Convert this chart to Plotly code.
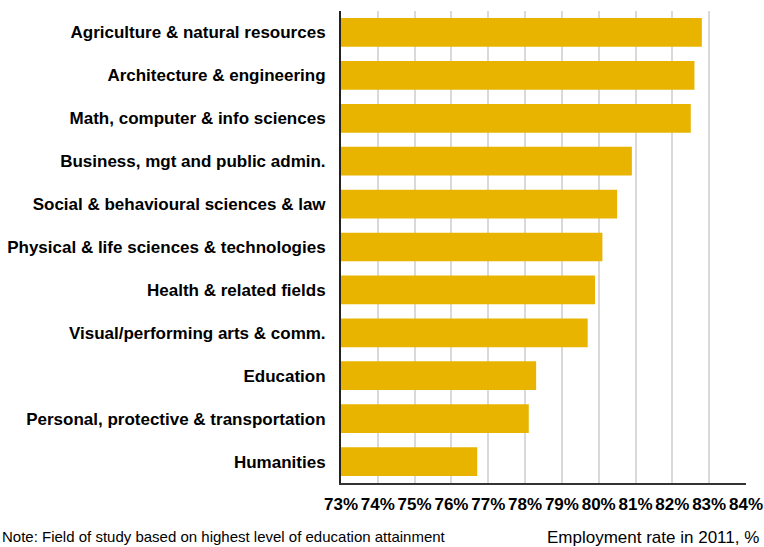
import plotly.graph_objects as go

# Fields of study, top to bottom
fields = [
    "Agriculture & natural resources",
    "Architecture & engineering",
    "Math, computer & info sciences",
    "Business, mgt and public admin.",
    "Social & behavioural sciences & law",
    "Physical & life sciences & technologies",
    "Health & related fields",
    "Visual/performing arts & comm.",
    "Education",
    "Personal, protective & transportation",
    "Humanities",
]
# Employment rate in 2011, %
rates = [82.8, 82.6, 82.5, 80.9, 80.5, 80.1, 79.9, 79.7, 78.3, 78.1, 76.7]

tick_vals = list(range(73, 85))
tick_text = [f"{v}%" for v in tick_vals]

W, H = 764, 547
L, R, T, B = 341, 18, 11, 64
PW, PH = W - L - R, H - T - B

FONT = "Liberation Sans, Arial, sans-serif"

fig = go.Figure(
    go.Bar(
        x=rates,
        y=fields,
        orientation="h",
        marker=dict(color="#E8B400", line=dict(width=0)),
    )
)

fig.update_layout(
    width=W,
    height=H,
    margin=dict(l=L, r=R, t=T, b=B, autoexpand=False),
    paper_bgcolor="white",
    plot_bgcolor="white",
    bargap=0.33,
    showlegend=False,
    font=dict(family=FONT, color="#000"),
    xaxis=dict(
        range=[73, 84],
        tickvals=tick_vals,
        ticktext=tick_text,
        tickangle=0,
        tickfont=dict(size=17, color="#000", family=FONT, weight="bold"),
        showgrid=True,
        gridcolor="#d9d9d9",
        gridwidth=1.5,
        showline=True,
        linecolor="#333",
        linewidth=2,
        ticks="",
        ticklabelstandoff=5,
        zeroline=False,
        automargin=False,
        fixedrange=True,
    ),
    yaxis=dict(
        autorange="reversed",
        tickfont=dict(size=17, color="#000", family=FONT, weight="bold"),
        showline=True,
        linecolor="#222",
        linewidth=2,
        ticks="",
        ticklabelstandoff=10,
        showgrid=False,
        automargin=False,
        fixedrange=True,
    ),
    annotations=[
        dict(
            text="Employment rate in 2011, %",
            xref="paper", yref="paper",
            x=(761 - L) / PW, y=-(537 - (H - B)) / PH,
            xanchor="right", yanchor="middle",
            showarrow=False,
            font=dict(size=17, color="#000", family=FONT),
        ),
        dict(
            text="Note: Field of study based on highest level of education attainment",
            xref="paper", yref="paper",
            x=(0 - L) / PW, y=-(H - (H - B)) / PH,
            xanchor="left", yanchor="bottom",
            showarrow=False,
            font=dict(size=15, color="#000", family=FONT),
        ),
    ],
)

fig.write_html("out.html")
